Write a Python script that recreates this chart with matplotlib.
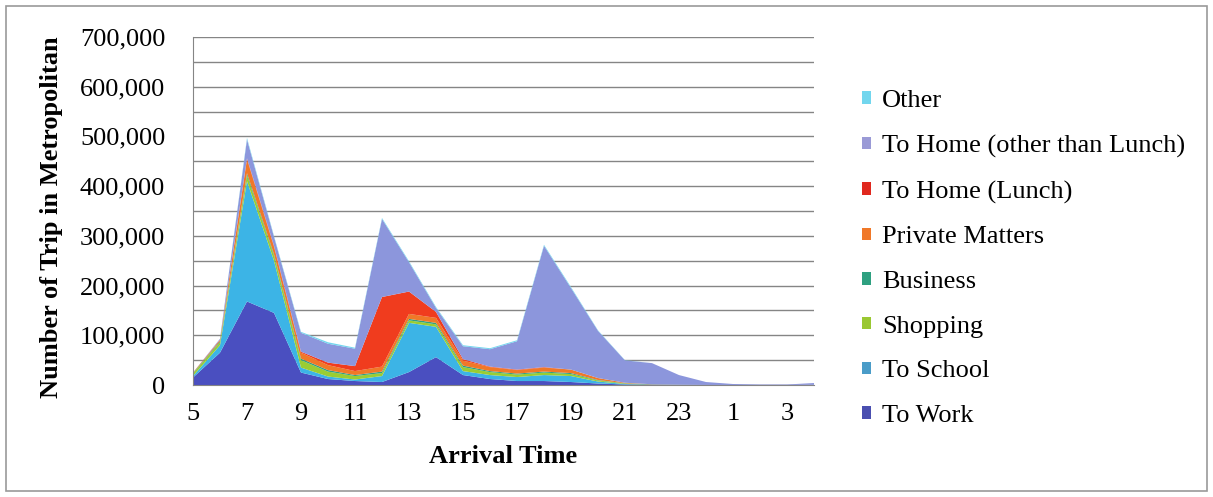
import matplotlib
matplotlib.use("Agg")
import matplotlib.pyplot as plt
from matplotlib.patches import Rectangle, Patch
from matplotlib.ticker import MultipleLocator, FuncFormatter

# Arrival hours, 5 a.m. through 4 a.m. the next day
hours = [5, 6, 7, 8, 9, 10, 11, 12, 13, 14, 15, 16, 17, 18, 19, 20, 21, 22, 23, 0, 1, 2, 3, 4]
tick_labels = ["5", "7", "9", "11", "13", "15", "17", "19", "21", "23", "1", "3"]

# Trips per purpose (stacked bottom to top)
to_work = [15000, 65000, 168000, 145000, 25000, 12000, 8000, 6000, 26000, 56000, 20000, 12000,
           8000, 8000, 6000, 3000, 1000, 500, 200, 100, 0, 0, 0, 500]
to_school = [3000, 15000, 242000, 105000, 10000, 5000, 3000, 12000, 99000, 61000, 8000, 8000,
             8000, 12000, 12000, 4000, 1000, 300, 100, 0, 0, 0, 0, 0]
shopping = [5000, 6000, 12000, 10000, 15000, 10000, 7000, 6000, 5000, 5000, 8000, 6000,
            5000, 5000, 4000, 2000, 1000, 200, 100, 0, 0, 0, 0, 0]
business = [1000, 2000, 4000, 3000, 3000, 3000, 2000, 3000, 3000, 3000, 3000, 2000,
            2000, 2000, 2000, 1000, 500, 200, 100, 0, 0, 0, 0, 0]
private_matters = [1000, 3000, 28000, 15000, 12000, 10000, 8000, 10000, 10000, 10000, 10000, 8000,
                   7000, 8000, 7000, 4000, 1000, 300, 100, 0, 0, 0, 0, 0]
home_lunch = [0, 0, 2000, 2000, 2000, 5000, 10000, 140000, 45000, 12000, 3000, 1000,
              1000, 1000, 0, 0, 0, 0, 0, 0, 0, 0, 0, 0]
home_other = [0, 2000, 38000, 18000, 38000, 38000, 35000, 157000, 59000, 8000, 26000, 35000,
              57000, 244000, 164000, 95000, 45000, 42500, 19400, 5900, 2000, 1000, 1000, 3500]
other = [0, 0, 3000, 2000, 2000, 3000, 2000, 2000, 2000, 2000, 2000, 2000,
         2000, 2000, 2000, 1000, 500, 0, 0, 0, 0, 0, 0, 0]

series = [to_work, to_school, shopping, business, private_matters, home_lunch, home_other, other]
names = ["To Work", "To School", "Shopping", "Business", "Private Matters",
         "To Home (Lunch)", "To Home (other than Lunch)", "Other"]
colors = ["#4a4fc0", "#3cb4e6", "#9acd32", "#2ea080", "#f07828", "#f03c1e", "#8c96dc", "#72d6ee"]
legend_colors = ["#4a4fb0", "#4a9cc8", "#9ac832", "#2ea080", "#f07828", "#e0281e", "#9a9ad6", "#72d6ee"]

plt.rcParams["font.family"] = ["Liberation Serif", "DejaVu Serif"]
FS = 19

fig = plt.figure(figsize=(12.13, 4.97), dpi=100)
ax = fig.add_axes([193 / 1213, 1 - 385 / 497, (814 - 193) / 1213, (385 - 37) / 497])

x = list(range(len(hours)))
ax.stackplot(x, *series, colors=colors, linewidth=0)

ax.set_xlim(0, len(hours) - 1)
ax.set_ylim(0, 700000)
ax.set_xticks(x[::2])
ax.set_xticklabels(tick_labels)
ax.yaxis.set_major_locator(MultipleLocator(100000))
ax.yaxis.set_minor_locator(MultipleLocator(50000))
ax.yaxis.set_major_formatter(FuncFormatter(lambda v, p: "0" if v == 0 else f"{int(v):,}"))
ax.grid(axis="y", which="both", color="#858585", linewidth=1.0)
ax.set_axisbelow(True)
ax.tick_params(axis="both", which="both", length=0, labelsize=FS)
ax.tick_params(axis="y", pad=20)
ax.tick_params(axis="x", pad=13)

for side in ["top", "right"]:
    ax.spines[side].set_visible(False)
ax.spines["left"].set_color("#858585")
ax.spines["bottom"].set_color("#858585")

ax.set_xlabel("Arrival Time", fontsize=FS, fontweight="bold")
ax.set_ylabel("Number of Trip in Metropolitan", fontsize=FS, fontweight="bold")
ax.xaxis.set_label_coords(0.499, -0.172)
ax.yaxis.set_label_coords(-0.209, 0.483)

handles = [Patch(facecolor=c, edgecolor="none") for c in legend_colors]
leg = fig.legend(handles[::-1], names[::-1], loc="upper left", bbox_to_anchor=(862 / 1213, 1 - 90 / 497),
                 frameon=False, fontsize=FS, handlelength=0.35, handleheight=0.35,
                 handletextpad=0.4, labelspacing=0.86, borderaxespad=0, borderpad=0)

fig.patches.append(Rectangle((6 / 1213, 6 / 497), 1 - 12 / 1213, 1 - 12 / 497,
                             transform=fig.transFigure, fill=False, edgecolor="#9a9a9a", linewidth=1.2))

fig.savefig("out.png", dpi=100)
